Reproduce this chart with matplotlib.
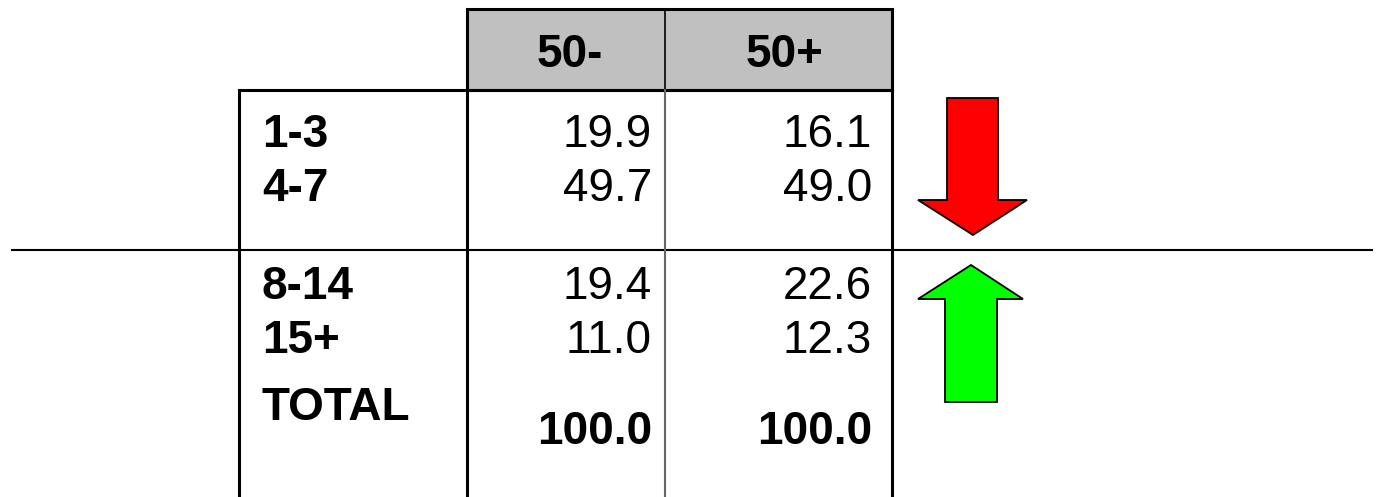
import matplotlib
matplotlib.use('Agg')
import matplotlib.pyplot as plt
from matplotlib.patches import Rectangle, Polygon

plt.rcParams['font.family'] = ['Liberation Sans', 'DejaVu Sans']

# table content
col_labels = ['50-', '50+']
row_labels = ['1-3', '4-7', '8-14', '15+']
vals_under50 = [19.9, 49.7, 19.4, 11.0]
vals_over50 = [16.1, 49.0, 22.6, 12.3]
total_label = 'TOTAL'
totals = [100.0, 100.0]

# layout in pixels (figure is 1382 x 497)
W, H = 1382, 497
x_left, x_lab, x_c1, x_c2 = 239, 467, 665, 892
y_head_top, y_head_bot = 9, 90
row_y = [135, 189, 287, 341]
total_y, total_val_y = 408, 432
split_y = 250
fs = 33

fig = plt.figure(figsize=(W / 100, H / 100), dpi=100)
ax = fig.add_axes([0, 0, 1, 1])
ax.set_xlim(0, W)
ax.set_ylim(H, 0)
ax.axis('off')

# header box
ax.add_patch(Rectangle((x_lab, y_head_top), x_c2 - x_lab, y_head_bot - y_head_top,
                       facecolor='#c0c0c0', edgecolor='black', lw=2.2, zorder=2))
ax.plot([x_c1, x_c1], [y_head_top, y_head_bot], color='black', lw=1.2, zorder=3)
for x, lab in zip([(x_lab + x_c1) / 2 + 4, (x_c1 + x_c2) / 2 + 6], col_labels):
    ax.text(x, 55, lab, ha='center', va='center', fontsize=fs, fontweight='bold')

# body grid
ax.plot([x_left, x_c2], [y_head_bot, y_head_bot], color='black', lw=2.2, zorder=3)
for x in [x_left, x_lab, x_c2]:
    ax.plot([x, x], [y_head_bot, H], color='black', lw=2.2, zorder=3)
ax.plot([x_c1, x_c1], [y_head_bot, H], color='#666666', lw=1.5, zorder=3)
ax.plot([12, 1372], [split_y, split_y], color='black', lw=1.5, zorder=1)

# rows
for y, lab, a, b in zip(row_y, row_labels, vals_under50, vals_over50):
    ax.text(x_left + 23, y, lab, ha='left', va='center', fontsize=fs, fontweight='bold')
    ax.text(x_c1 - 13, y, f'{a:.1f}', ha='right', va='center', fontsize=fs)
    ax.text(x_c2 - 20, y, f'{b:.1f}', ha='right', va='center', fontsize=fs)
ax.text(x_left + 23, total_y, total_label, ha='left', va='center', fontsize=fs,
        fontweight='bold')
ax.text(x_c1 - 13, total_val_y, f'{totals[0]:.1f}', ha='right', va='center',
        fontsize=fs, fontweight='bold')
ax.text(x_c2 - 20, total_val_y, f'{totals[1]:.1f}', ha='right', va='center',
        fontsize=fs, fontweight='bold')

# arrows
down = [(947, 98), (998, 98), (998, 200), (1027, 200), (973, 235),
        (918, 200), (947, 200)]
up = [(945, 402), (997, 402), (997, 299), (1023, 299), (971, 265),
      (918, 299), (945, 299)]
ax.add_patch(Polygon(down, closed=True, facecolor='#ff0000', edgecolor='black', lw=1.3))
ax.add_patch(Polygon(up, closed=True, facecolor='#00ff00', edgecolor='black', lw=1.3))

fig.savefig('out.png', dpi=100, facecolor='white')
